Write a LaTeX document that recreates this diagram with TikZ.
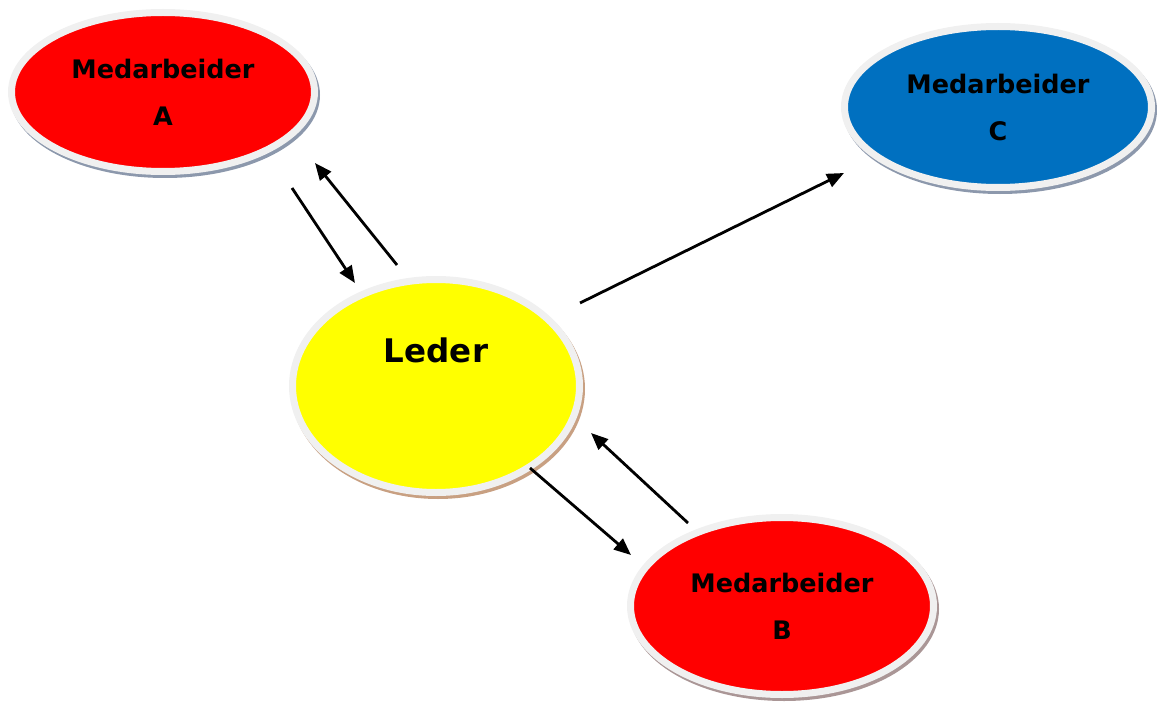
\documentclass[tikz,border=0pt]{standalone}
\usepackage{fontspec}
\setmainfont{DejaVu Sans}
\usepackage{tikz}
\usetikzlibrary{
    shapes.geometric, arrows.meta, positioning, calc, shadows
}
\definecolor{colRed}{RGB}{255, 0, 0}
\definecolor{colYellow}{RGB}{255, 255, 0}
\definecolor{colBlue}{RGB}{0, 112, 192}
\definecolor{colRing}{RGB}{240, 240, 240}
\definecolor{colShadeBlue}{RGB}{140, 152, 172}
\definecolor{colShadeTan}{RGB}{200, 160, 130}
\definecolor{colShadeRed}{RGB}{170, 150, 150}

\begin{document}
\begin{tikzpicture}[x=1pt, y=-1pt,
    bubble/.style 2 args={ellipse, fill=#1, draw=colRing, line width=7pt,
        inner sep=0pt, outer sep=0pt, align=center,
        font=\bfseries\fontsize{25.5}{47}\selectfont,
        general shadow={fill=#2, draw=#2, line width=7pt,
            shadow xshift=2pt, shadow yshift=-3pt}},
    arr/.style={-{Triangle[length=17pt, width=14pt]}, line width=2.8pt}]
    \useasboundingbox (0, 0) rectangle (1157, 706);

    % --- Medarbeidere ---
    \node[bubble={colRed}{colShadeBlue}, minimum width=303pt, minimum height=159pt]
        (medA) at (163, 92) {Medarbeider\\A};
    \node[bubble={colBlue}{colShadeBlue}, minimum width=307pt, minimum height=161pt]
        (medC) at (998, 107) {Medarbeider\\C};
    \node[bubble={colRed}{colShadeRed}, minimum width=303pt, minimum height=177pt]
        (medB) at (782, 606) {Medarbeider\\B};

    % --- Leder ---
    \node[bubble={colYellow}{colShadeTan}, minimum width=287pt, minimum height=213pt,
        label={[yshift=36pt, font=\bfseries\fontsize{32.5}{38}\selectfont, name=lederText]center:Leder}]
        (leder) at (436, 386) {};

    % Endepunkter for pilene
    \coordinate (aOut) at (292, 188);  \coordinate (aIn) at (355, 283);
    \coordinate (lOutA) at (397, 265); \coordinate (lInA) at (315, 163);
    \coordinate (lOutC) at (580, 303); \coordinate (cIn) at (844, 173);
    \coordinate (lOutB) at (530, 468); \coordinate (bIn) at (631, 555);
    \coordinate (bOut) at (688, 523);  \coordinate (lInB) at (591, 433);

    % --- Piler ---
    \draw[arr] (aOut) -- (aIn);
    \draw[arr] (lOutA) -- (lInA);
    \draw[arr] (lOutC) -- (cIn);
    \draw[arr] (lOutB) -- (bIn);
    \draw[arr] (bOut) -- (lInB);
\end{tikzpicture}
\end{document}
